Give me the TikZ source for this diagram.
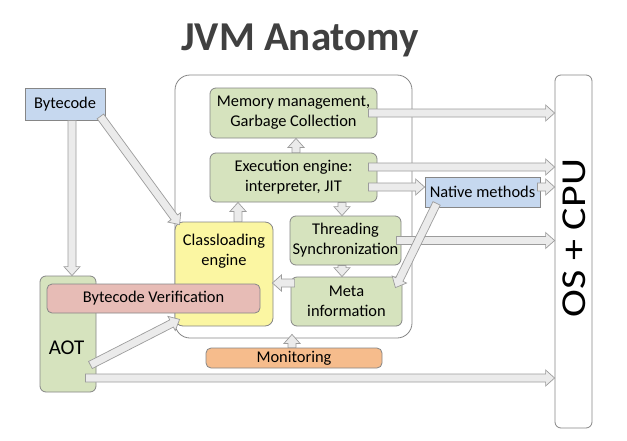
\documentclass[tikz,border=0pt]{standalone}
\usepackage{fontspec}
\usepackage{graphicx}
\setmainfont{Carlito}
\usetikzlibrary{calc}
\definecolor{gfill}{HTML}{D6E3BE}
\definecolor{yfill}{HTML}{FBF6A2}
\definecolor{bfill}{HTML}{C6D8EF}
\definecolor{pfill}{HTML}{E7BCB6}
\definecolor{ofill}{HTML}{F6BC8C}
\definecolor{bline}{HTML}{868686}
\definecolor{arrline}{HTML}{9C9C9C}
\definecolor{arrfill}{HTML}{EBEBEB}
\definecolor{titlecol}{HTML}{404040}
\tikzset{
  basebox/.style={draw=bline, line width=0.8pt, inner sep=0pt, align=center, text=black,
    font=\fontsize{16.4}{20}\selectfont},
  gbox/.style={basebox, fill=gfill, rounded corners=6pt},
  ybox/.style={basebox, fill=yfill, rounded corners=8pt},
  bbox/.style={basebox, fill=bfill},
  pbox/.style={basebox, fill=pfill, rounded corners=5pt},
  obox/.style={basebox, fill=ofill, rounded corners=5pt},
  plain/.style={inner sep=0pt, align=center, text=black, font=\fontsize{16.4}{20}\selectfont},
  blk/.style={draw=arrline, fill=arrfill, line width=0.7pt, line join=miter}
}
\newcommand\blockarrow[2]{%
  \coordinate (hb) at ($(#2)!9pt!(#1)$);
  \draw[blk] ($(#1)!4pt!90:(#2)$) -- ($(hb)!4pt!90:(#2)$) -- ($(hb)!8pt!90:(#2)$) -- (#2)
    -- ($(hb)!8pt!-90:(#2)$) -- ($(hb)!4pt!-90:(#2)$) -- ($(#1)!4pt!-90:(#2)$) -- cycle;}
\begin{document}
\begin{tikzpicture}[x=1pt, y=-1pt]
\useasboundingbox (0,0) rectangle (627,440);
\fill[white] (0,0) rectangle (627,440);

% title
\node[anchor=base, text=titlecol, font=\fontsize{41}{48}\selectfont\bfseries] (title) at (300,50) {JVM Anatomy};

% container
\node[draw=bline, line width=0.8pt, rounded corners=15pt, minimum width=237pt, minimum height=263pt, inner sep=0pt] (cont) at (293.5,206.5) {};

% boxes
\node[gbox, minimum width=167pt, minimum height=50pt] (mem) at (293.5,113) {Memory management,\\Garbage Collection};
\node[gbox, minimum width=167pt, minimum height=49pt] (exe) at (293.5,177.5) {Execution engine:\\interpreter, JIT};
\node[gbox, minimum width=111pt, minimum height=49pt] (thr) at (345.5,240.5) {Threading\\Synchronization};
\node[gbox, minimum width=111pt, minimum height=49pt] (meta) at (346.5,301.5) {Meta\\information};
\node[ybox, minimum width=98pt, minimum height=104pt] (cl) at (224,274) {};
\node[plain] (clt) at (224,251) {Classloading\\engine};
\node[bbox, minimum width=80pt, minimum height=32pt] (bc) at (65,104) {Bytecode};
\node[bbox, minimum width=115pt, minimum height=30pt] (nat) at (482.5,192) {Native methods};
\node[basebox, fill=white, rounded corners=6pt, minimum width=37pt, minimum height=353pt] (os) at (573.5,251.5) {};
\node[rotate=90, anchor=base, inner sep=0pt, text=black, font=\fontsize{35}{40}\selectfont] (ost) at (585,238) {\scalebox{1.2}[1]{OS + CPU}};
\node[gbox, minimum width=56pt, minimum height=116pt] (aot) at (68,334) {};
\node[plain, font=\fontsize{21}{24}\selectfont] (aott) at (66.5,348) {AOT};
\node[pbox, minimum width=213pt, minimum height=29pt] (bv) at (153.5,298.5) {Bytecode Verification};
\node[obox, minimum width=176pt, minimum height=20pt] (mon) at (294,358) {Monitoring};

% arrows
\coordinate (a1s) at ($(bc.south)+(7,0)$);
\coordinate (a1e) at (a1s |- aot.north);
\blockarrow{a1s}{a1e}

\coordinate (a2s) at ($(bc.south east)+(-5,-4)$);
\coordinate (a2e) at ($(cl.north west)+(5,3)$);
\blockarrow{a2s}{a2e}

\coordinate (a3s) at ($(aot.east)+(-6,31)$);
\coordinate (a3e) at ($(cl.south west)+(5,-7)$);
\blockarrow{a3s}{a3e}

\coordinate (a4s) at ($(aot.east)+(-11,44)$);
\coordinate (a4e) at (a4s -| os.west);
\blockarrow{a4s}{a4e}

\coordinate (a5s) at ($(cl.north)+(14,0)$);
\coordinate (a5e) at (a5s |- exe.south);
\blockarrow{a5s}{a5e}

\coordinate (a6s) at ($(exe.north)+(2.5,0)$);
\coordinate (a6e) at (a6s |- mem.south);
\blockarrow{a6s}{a6e}

\coordinate (a7s) at ($(exe.south)+(48.5,0)$);
\coordinate (a7e) at (a7s |- thr.north);
\blockarrow{a7s}{a7e}

\coordinate (a8s) at ($(thr.south)+(-3.5,0)$);
\coordinate (a8e) at (a8s |- meta.north);
\blockarrow{a8s}{a8e}

\coordinate (a9s) at ($(meta.west)+(4,-18.5)$);
\coordinate (a9e) at ($(a9s -| cl.east)+(-1,0)$);
\blockarrow{a9s}{a9e}

\coordinate (a10s) at ($(mon.north)+(-2,0)$);
\coordinate (a10e) at ($(a10s |- cont.south)+(0,-4)$);
\blockarrow{a10s}{a10e}

\coordinate (a11s) at ($(mem.east)+(-9,0)$);
\coordinate (a11e) at (a11s -| os.west);
\blockarrow{a11s}{a11e}

\coordinate (a12s) at ($(exe.east)+(-9,-10.5)$);
\coordinate (a12e) at (a12s -| os.west);
\blockarrow{a12s}{a12e}

\coordinate (a13s) at ($(exe.east)+(-9,9.5)$);
\coordinate (a13e) at (a13s -| nat.west);
\blockarrow{a13s}{a13e}

\coordinate (a14s) at ($(nat.east)+(-3,-5)$);
\coordinate (a14e) at (a14s -| os.west);
\blockarrow{a14s}{a14e}

\coordinate (a15s) at ($(thr.east)+(-5,0)$);
\coordinate (a15e) at (a15s -| os.west);
\blockarrow{a15s}{a15e}

\coordinate (a16s) at ($(nat.south west)+(12,-4)$);
\coordinate (a16e) at ($(meta.north east)+(-7,11)$);
\blockarrow{a16s}{a16e}
\end{tikzpicture}
\end{document}
